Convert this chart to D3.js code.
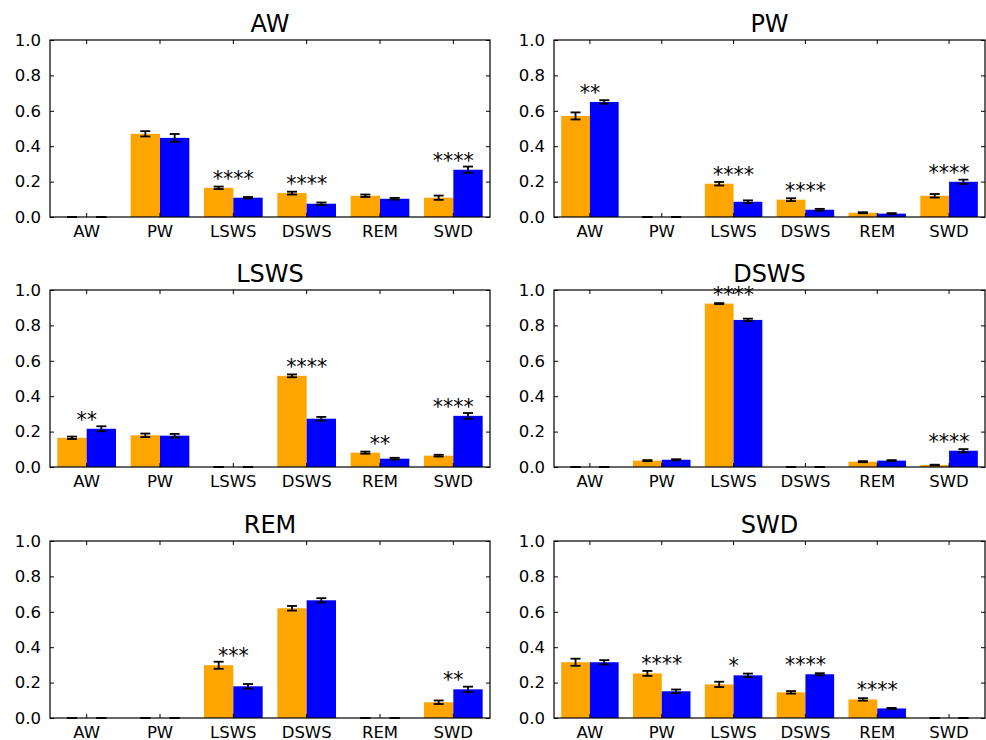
<!DOCTYPE html>
<html>
<head>
<meta charset="utf-8">
<script src="https://cdn.jsdelivr.net/npm/d3@7"></script>
<style>
  body { margin: 0; background: #fff; }
  svg { display: block; font-family: "DejaVu Sans", sans-serif; }
</style>
</head>
<body>
<svg id="chart" width="986" height="740"></svg>
<script>
// categories (x axis) and panel titles
const CATEGORIES = ["AW", "PW", "LSWS", "DSWS", "REM", "SWD"];
const TITLES = ["AW", "PW", "LSWS", "DSWS", "REM", "SWD"];
const Y_TICKS = [0, 0.2, 0.4, 0.6, 0.8, 1.0];

// one row per panel, one value per category
const ORANGE_MEANS = [
    [0, 0.470, 0.165, 0.135, 0.120, 0.109],
    [0.571, 0, 0.188, 0.098, 0.024, 0.120],
    [0.165, 0.179, 0, 0.515, 0.081, 0.064],
    [0, 0.036, 0.923, 0, 0.030, 0.011],
    [0, 0, 0.298, 0.620, 0, 0.089],
    [0.315, 0.252, 0.190, 0.145, 0.105, 0]
];
const ORANGE_ERR = [
    [0, 0.015, 0.007, 0.008, 0.007, 0.012],
    [0.020, 0, 0.010, 0.008, 0.003, 0.010],
    [0.007, 0.010, 0, 0.008, 0.006, 0.005],
    [0, 0.003, 0.003, 0, 0.003, 0.002],
    [0, 0, 0.020, 0.013, 0, 0.010],
    [0.020, 0.014, 0.015, 0.007, 0.007, 0]
];
const BLUE_MEANS = [
    [0, 0.447, 0.109, 0.075, 0.103, 0.267],
    [0.650, 0, 0.086, 0.041, 0.019, 0.199],
    [0.216, 0.177, 0, 0.273, 0.047, 0.289],
    [0, 0.041, 0.831, 0, 0.036, 0.092],
    [0, 0, 0.179, 0.665, 0, 0.162],
    [0.315, 0.151, 0.241, 0.247, 0.054, 0]
];
const BLUE_ERR = [
    [0, 0.022, 0.004, 0.007, 0.005, 0.018],
    [0.010, 0, 0.008, 0.005, 0.003, 0.012],
    [0.014, 0.010, 0, 0.010, 0.005, 0.016],
    [0, 0.003, 0.007, 0, 0.003, 0.009],
    [0, 0, 0.013, 0.012, 0, 0.015],
    [0.012, 0.010, 0.010, 0.006, 0.003, 0]
];
const STARS = [
    ["", "", "****", "****", "", "****"],
    ["**", "", "****", "****", "", "****"],
    ["**", "", "", "****", "**", "****"],
    ["", "", "****", "", "", "****"],
    ["", "", "***", "", "", "**"],
    ["", "****", "*", "****", "****", ""]
];

const ORANGE = "#FFA500";
const BLUE = "#0000FF";

const COLUMNS = [[50, 490], [554, 985]];
const ROWS = [[40, 217], [290, 467], [541, 718]];

const svg = d3.select("#chart");

const drawPanel = (p) => {
    const [left, right] = COLUMNS[p % 2];
    const [top, bottom] = ROWS[Math.floor(p / 2)];

    const x = d3.scaleBand().domain(CATEGORIES).range([left, right]).padding(0);
    const y = d3.scaleLinear().domain([0, 1]).range([bottom, top]);
    const barW = x.bandwidth() * 0.4;
    const g = svg.append("g").attr("class", "panel");

    const series = [
        { means: ORANGE_MEANS[p], errs: ORANGE_ERR[p], color: ORANGE, offset: -barW },
        { means: BLUE_MEANS[p], errs: BLUE_ERR[p], color: BLUE, offset: 0 }
    ];

    series.forEach(s => {
        const rows = CATEGORIES.map((c, i) => ({ c, v: s.means[i], e: s.errs[i] }));
        g.append("g").selectAll("rect")
            .data(rows)
            .enter()
            .append("rect")
            .attr("x", d => x(d.c) + x.bandwidth() / 2 + s.offset)
            .attr("y", d => y(d.v))
            .attr("width", barW)
            .attr("height", d => y(0) - y(d.v))
            .attr("fill", s.color);
        const eb = g.append("g")
            .attr("stroke", "black")
            .attr("stroke-width", 1.8)
            .selectAll("g")
            .data(rows)
            .enter()
            .append("g");
        const cx = d => x(d.c) + x.bandwidth() / 2 + s.offset + barW / 2;
        eb.append("line")
            .attr("x1", cx).attr("x2", cx)
            .attr("y1", d => y(d.v - d.e)).attr("y2", d => y(d.v + d.e));
        [1, -1].forEach(sign => {
            eb.append("line")
                .attr("x1", d => cx(d) - 5).attr("x2", d => cx(d) + 5)
                .attr("y1", d => y(d.v + sign * d.e)).attr("y2", d => y(d.v + sign * d.e));
        });
    });

    // axes, ticks pointing inward on all four sides
    g.append("g")
        .attr("transform", `translate(0,${bottom})`)
        .call(d3.axisBottom(x).tickSizeInner(-4).tickSizeOuter(0).tickPadding(8))
        .call(a => a.select(".domain").remove());
    g.append("g")
        .attr("transform", `translate(0,${top})`)
        .call(d3.axisTop(x).tickSizeInner(-4).tickSizeOuter(0).tickFormat(""))
        .call(a => a.select(".domain").remove());
    g.append("g")
        .attr("transform", `translate(${left},0)`)
        .call(d3.axisLeft(y).tickValues(Y_TICKS).tickFormat(d3.format(".1f"))
            .tickSizeInner(-4).tickSizeOuter(0).tickPadding(9))
        .call(a => a.select(".domain").remove());
    g.append("g")
        .attr("transform", `translate(${right},0)`)
        .call(d3.axisRight(y).tickValues(Y_TICKS).tickFormat("")
            .tickSizeInner(-4).tickSizeOuter(0))
        .call(a => a.select(".domain").remove());

    g.selectAll(".tick text")
        .style("font-family", "DejaVu Sans")
        .style("font-size", "16.5px")
        .attr("fill", "black");
    g.selectAll(".tick line").attr("stroke", "black");

    g.append("rect")
        .attr("x", left).attr("y", top)
        .attr("width", right - left).attr("height", bottom - top)
        .attr("fill", "none").attr("stroke", "black").attr("stroke-width", 1.2);

    g.append("text")
        .attr("x", (left + right) / 2)
        .attr("y", top - 8)
        .attr("text-anchor", "middle")
        .attr("font-size", 24)
        .text(TITLES[p]);

    g.append("g").selectAll("text")
        .data(CATEGORIES.map((c, i) => ({ c, s: STARS[p][i], m: Math.max(ORANGE_MEANS[p][i], BLUE_MEANS[p][i]) })))
        .enter()
        .append("text")
        .attr("x", d => x(d.c) + x.bandwidth() / 2)
        .attr("y", d => y(d.m) - 2)
        .attr("text-anchor", "middle")
        .attr("font-size", 20.5)
        .text(d => d.s);
};

TITLES.forEach((t, p) => drawPanel(p));
</script>
</body>
</html>
